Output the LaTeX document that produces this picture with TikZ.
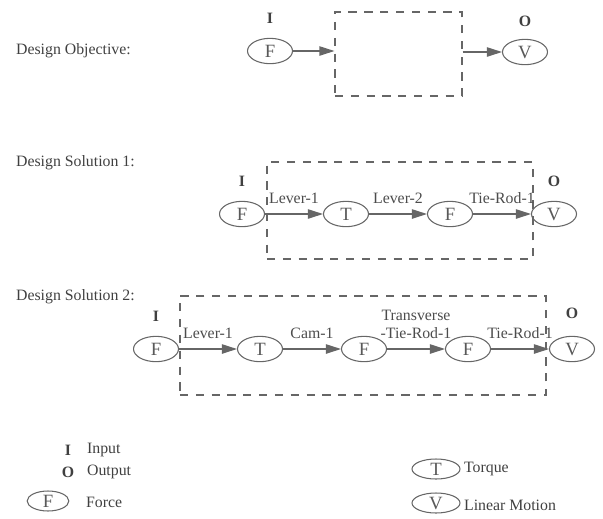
\documentclass[tikz,border=0pt]{standalone}
\usepackage{fontspec}
\setmainfont{Liberation Serif}
\usepackage{tikz}
\usetikzlibrary{positioning}
\usetikzlibrary{shapes.geometric, arrows.meta}
\tikzstyle{quantity} = [ellipse, draw=black!60, line width=0.9pt, minimum width=1.35cm, minimum height=0.76cm, inner sep=0pt, text=black!65, font=\fontsize{16}{18}\selectfont]
\tikzstyle{keyshape} = [quantity, minimum width=1.44cm, minimum height=0.6cm]
\tikzstyle{flowbox} = [rectangle, draw=black!60, line width=0.9pt, dash pattern=on 7pt off 6.5pt]
\tikzstyle{arrow} = [draw=black!60, line width=1pt, -{Triangle[length=0.45cm, width=0.28cm]}]
\tikzstyle{rowlabel} = [anchor=west, text=black!75]
\tikzstyle{iolabel} = [text=black!75, font=\fontsize{13.5}{15}\selectfont\bfseries]
\tikzstyle{edgelabel} = [above=5pt, midway, text=black!70, align=center]

\begin{document}
\begin{tikzpicture}[x=0.03cm, y=-0.03cm, node distance=3.12cm, font=\fontsize{13.5}{15.5}\selectfont]
\useasboundingbox (0,0) rectangle (603,518);

% design objective
\node (objlabel) [rowlabel] at (12,51) {Design Objective:};
\node (objF) [quantity] at (270,51) {F};
\node (objbox) [flowbox, minimum width=3.81cm, minimum height=2.52cm] at (398.5,54) {};
\node (objV) [quantity] at (525,52) {V};
\node (objI) [iolabel, above=0.3cm of objF] {I};
\node (objO) [iolabel, above=0.25cm of objV] {O};
\draw [arrow] (objF) -- (objF -| objbox.west);
\draw [arrow] (objV -| objbox.east) -- (objV);

% design solution 1
\node (solAlabel) [rowlabel] at (12,163) {Design Solution 1:};
\node (solAbox) [flowbox, minimum width=7.98cm, minimum height=2.91cm] at (400,210.5) {};
\node (solA1) [quantity] at (242,214) {F};
\node (solA2) [quantity, right of=solA1] {T};
\node (solA3) [quantity, right of=solA2] {F};
\node (solA4) [quantity, right of=solA3] {V};
\node (solAI) [iolabel, above=0.3cm of solA1] {I};
\node (solAO) [iolabel, above=0.3cm of solA4] {O};
\draw [arrow] (solA1) -- (solA2) node [edgelabel] {Lever-1};
\draw [arrow] (solA2) -- (solA3) node [edgelabel] {Lever-2};
\draw [arrow] (solA3) -- (solA4) node [edgelabel] {Tie-Rod-1};

% design solution 2
\node (solBlabel) [rowlabel] at (12,297) {Design Solution 2:};
\node (solBbox) [flowbox, minimum width=10.98cm, minimum height=2.97cm] at (363,345.5) {};
\node (solB1) [quantity] at (156,349) {F};
\node (solB2) [quantity, right of=solB1] {T};
\node (solB3) [quantity, right of=solB2] {F};
\node (solB4) [quantity, right of=solB3] {F};
\node (solB5) [quantity, right of=solB4] {V};
\node (solBI) [iolabel, above=0.3cm of solB1] {I};
\node (solBO) [iolabel, above=0.4cm of solB5] {O};
\draw [arrow] (solB1) -- (solB2) node [edgelabel] {Lever-1};
\draw [arrow] (solB2) -- (solB3) node [edgelabel] {Cam-1};
\draw [arrow] (solB3) -- (solB4) node [edgelabel] {Transverse\\-Tie-Rod-1};
\draw [arrow] (solB4) -- (solB5) node [edgelabel] {Tie-Rod-1};

% key
\node (keyI) [iolabel] at (68,450) {I};
\node (keyItext) [rowlabel] at (83,450) {Input};
\node (keyO) [iolabel] at (68,472) {O};
\node (keyOtext) [rowlabel] at (83,472) {Output};
\node (keyF) [keyshape, minimum width=1.25cm] at (48,501) {F};
\node (keyFtext) [rowlabel] at (82,502) {Force};
\node (keyT) [keyshape] at (436,469) {T};
\node (keyTtext) [rowlabel] at (460,469) {Torque};
\node (keyV) [keyshape] at (436,503) {V};
\node (keyVtext) [rowlabel] at (460,505) {Linear Motion};
\end{tikzpicture}
\end{document}
